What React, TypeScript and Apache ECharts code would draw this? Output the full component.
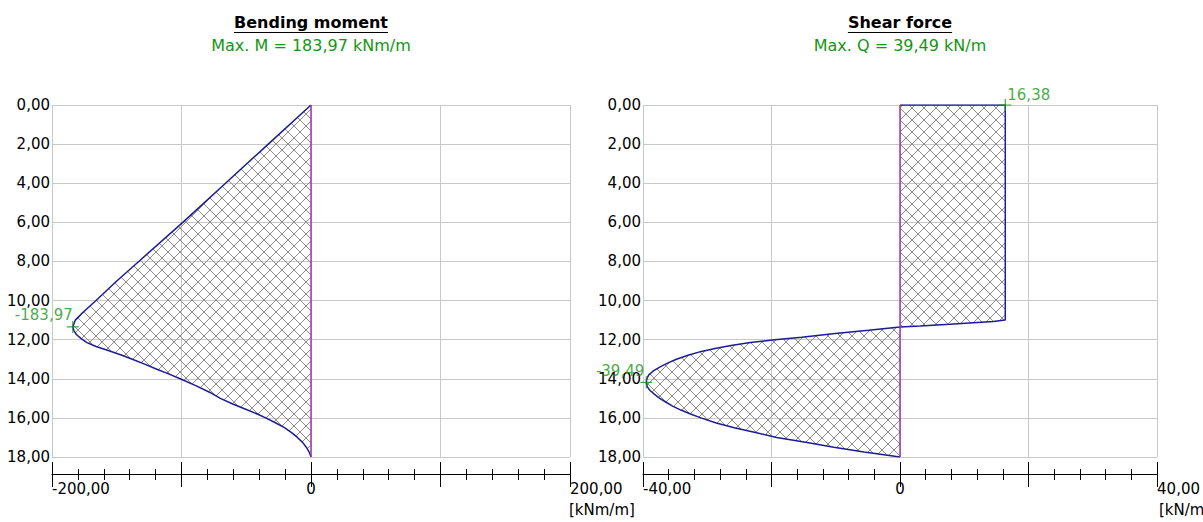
import React, { useEffect, useRef } from "react";
import * as echarts from "echarts";

// ---- data ----
const yTicks = [0, 2, 4, 6, 8, 10, 12, 14, 16, 18];

const momentDepth = [0, 2, 4, 6, 8, 9, 10, 10.6, 11.0, 11.35, 11.55, 11.75, 11.95, 12.15, 12.35, 12.57, 12.8, 13.0, 13.25, 13.5, 13.75, 14.0, 14.35, 14.7, 15.0, 15.3, 15.6, 15.8, 16.0, 16.25, 16.5, 16.75, 17.0, 17.25, 17.5, 17.75, 18];
const momentValue = [0, -33, -66, -99, -133, -150, -166, -176, -182, -183.97, -183, -181, -177.5, -173, -166, -156, -146, -138, -128.5, -119.5, -110, -101, -89, -78, -70, -60, -49, -41.5, -35, -27.5, -20.5, -15, -10.5, -6.5, -3.6, -1.4, 0];
const momentMax = { value: -183.97, depth: 11.35 };

const shearDepth = [0, 0, 11.0, 11.07, 11.21, 11.3, 11.35, 11.45, 11.52, 11.69, 11.88, 12.0, 12.15, 12.3, 12.45, 12.6, 12.8, 13.0, 13.2, 13.4, 13.6, 13.8, 14.0, 14.2, 14.4, 14.6, 14.8, 15.0, 15.2, 15.4, 15.6, 15.8, 16.0, 16.26, 16.5, 16.75, 17.0, 17.25, 17.5, 17.75, 18];
const shearValue = [0, 16.38, 16.38, 14.5, 7.75, 3.1, 0, -3, -4.9, -10.1, -15.3, -19.5, -23.3, -26.3, -28.8, -30.9, -33, -34.8, -36.2, -37.4, -38.4, -39.1, -39.4, -39.49, -39.35, -38.9, -38.2, -37.4, -36.4, -35.4, -34.1, -32.6, -31.0, -28.6, -25.8, -22.5, -19.2, -14.7, -10.3, -5.6, 0];
const shearMax = { value: -39.49, depth: 14.18 };
const shearTop = { value: 16.38, depth: 0 };

const titles = ["Bending moment", "Shear force"];
const subtitles = ["Max. M = 183,97 kNm/m", "Max. Q = 39,49 kN/m"];
const units = ["[kNm/m]", "[kN/m]"];
const xRanges = [
  { min: -200, max: 200, interval: 100 },
  { min: -40, max: 40, interval: 20 },
];

const FONT = '"DejaVu Sans", sans-serif';
const GREEN = "#139613";
const NAVY = "#1c1c94";
const MAGENTA = "#a233b0";
const GRID = "#c8c8c8";

const fmt2 = (v: number) => v.toFixed(2).replace(".", ",");

function makePattern() {
  const s = 12;
  const c = document.createElement("canvas");
  c.width = s;
  c.height = s;
  const ctx = c.getContext("2d")!;
  ctx.strokeStyle = "#8c8c8c";
  ctx.lineWidth = 1;
  ctx.beginPath();
  ctx.moveTo(-1, -1);
  ctx.lineTo(s + 1, s + 1);
  ctx.moveTo(s + 1, -1);
  ctx.lineTo(-1, s + 1);
  ctx.stroke();
  return { image: c, repeat: "repeat", imageWidth: s, imageHeight: s } as any;
}

function textWidth(text: string, font: string) {
  const c = document.createElement("canvas");
  const ctx = c.getContext("2d")!;
  ctx.font = font;
  return ctx.measureText(text).width;
}

const PLUS = "path://M5.4,0H6.6V5.4H12V6.6H6.6V12H5.4V6.6H0V5.4H5.4Z";

export default function App() {
  const ref = useRef<HTMLDivElement>(null);
  useEffect(() => {
    const chart = echarts.init(ref.current!, null, { renderer: "svg" });
    const pattern = makePattern();
    const grids = [
      { left: 52, top: 105, width: 518, height: 352 },
      { left: 643, top: 105, width: 517, height: 352 },
    ];
    const xAxis: any[] = [];
    const yAxis: any[] = [];
    grids.forEach((g, i) => {
      const r = xRanges[i];
      xAxis.push({
        gridIndex: i,
        type: "value",
        min: r.min,
        max: r.max,
        interval: r.interval,
        position: "bottom",
        offset: 17,
        axisLine: { show: true, onZero: false, lineStyle: { color: "#000", width: 1 } },
        axisTick: { show: true, inside: true, length: 12, lineStyle: { color: "#000" } },
        minorTick: { show: true, splitNumber: 5, length: 5, lineStyle: { color: "#000" } },
        splitLine: { show: true, lineStyle: { color: GRID, width: 1 } },
        axisLabel: {
          show: true,
          margin: 7,
          align: "center",
          fontFamily: FONT,
          fontSize: 15,
          color: "#000",
          formatter: (v: number) => (v === 0 ? "0" : ""),
        },
      });
      xAxis.push({
        gridIndex: i,
        type: "value",
        min: r.min,
        max: r.max,
        interval: r.interval,
        position: "bottom",
        offset: 17,
        axisLine: { show: false, onZero: false },
        axisTick: { show: true, inside: false, length: 13, lineStyle: { color: "#000" } },
        minorTick: { show: true, splitNumber: 5, length: 6, lineStyle: { color: "#000" } },
        splitLine: { show: false },
        axisLabel: {
          show: true,
          margin: 7,
          align: "left",
          fontFamily: FONT,
          fontSize: 15,
          color: "#000",
          formatter: (v: number) => (v === r.min || v === r.max ? fmt2(v) : ""),
        },
      });
      yAxis.push({
        gridIndex: i,
        type: "value",
        inverse: true,
        min: yTicks[0],
        max: yTicks[yTicks.length - 1],
        interval: 2,
        axisLine: { show: false },
        axisTick: { show: false },
        splitLine: { show: true, lineStyle: { color: GRID, width: 1 } },
        axisLabel: { margin: 2, fontFamily: FONT, fontSize: 15, color: "#000", formatter: (v: number) => fmt2(v) },
      });
    });

    const datasets = [
      { depth: momentDepth, value: momentValue },
      { depth: shearDepth, value: shearValue },
    ];
    const series: any[] = [];
    datasets.forEach((d, i) => {
      const xIdx = i * 2;
      series.push({
        type: "custom",
        xAxisIndex: xIdx,
        yAxisIndex: i,
        data: [[0, 0]],
        z: 1,
        silent: true,
        renderItem: (_p: any, api: any) => {
          const pts = d.value.map((v, k) => api.coord([v, d.depth[k]]));
          return {
            type: "polygon",
            shape: { points: pts },
            style: { fill: pattern, stroke: "none" },
          };
        },
      });
      series.push({
        type: "line",
        xAxisIndex: xIdx,
        yAxisIndex: i,
        data: d.value.map((v, k) => [v, d.depth[k]]),
        showSymbol: false,
        symbol: "none",
        lineStyle: { color: NAVY, width: 1.5 },
        z: 3,
      });
      series.push({
        type: "line",
        xAxisIndex: xIdx,
        yAxisIndex: i,
        data: [
          [0, yTicks[0]],
          [0, yTicks[yTicks.length - 1]],
        ],
        showSymbol: false,
        symbol: "none",
        lineStyle: { color: MAGENTA, width: 1.5 },
        z: 4,
      });
    });

    const markers = [
      { xIdx: 0, yIdx: 0, pt: momentMax, pos: [6, 2], align: "right" },
      { xIdx: 2, yIdx: 1, pt: shearMax, pos: [4, 2], align: "right" },
      { xIdx: 2, yIdx: 1, pt: shearTop, pos: [8, 3], align: "left" },
    ];
    markers.forEach((m) => {
      series.push({
        type: "scatter",
        xAxisIndex: m.xIdx,
        yAxisIndex: m.yIdx,
        data: [[m.pt.value, m.pt.depth]],
        symbol: PLUS,
        symbolSize: 12,
        itemStyle: { color: GREEN },
        z: 6,
        label: {
          show: true,
          position: m.pos,
          align: m.align,
          verticalAlign: "bottom",
          color: GREEN,
          fontFamily: FONT,
          fontSize: 15,
          formatter: () => fmt2(m.pt.value),
        },
      });
    });

    const graphic: any[] = [];
    const centers = [311, 900];
    const titleFont = `bold 16px ${FONT}`;
    centers.forEach((cx, i) => {
      graphic.push({
        type: "text",
        x: cx,
        y: 14,
        style: { text: titles[i], font: titleFont, fill: "#000", align: "center", verticalAlign: "top", textAlign: "center", textVerticalAlign: "top" },
      });
      const w = textWidth(titles[i], `bold 16px "DejaVu Sans"`);
      graphic.push({
        type: "line",
        shape: { x1: cx - w / 2, y1: 32.5, x2: cx + w / 2, y2: 32.5 },
        style: { stroke: "#000", lineWidth: 1 },
      });
      graphic.push({
        type: "text",
        x: cx,
        y: 37,
        style: { text: subtitles[i], font: `16px ${FONT}`, fill: GREEN, align: "center", verticalAlign: "top", textAlign: "center", textVerticalAlign: "top" },
      });
      graphic.push({
        type: "text",
        x: grids[i].left + grids[i].width - 1,
        y: 502,
        style: { text: units[i], font: `15px ${FONT}`, fill: "#000", align: "left", verticalAlign: "top", textAlign: "left", textVerticalAlign: "top" },
      });
    });

    chart.setOption({
      animation: false,
      backgroundColor: "#fff",
      grid: grids,
      xAxis,
      yAxis,
      series,
      graphic,
    });
    return () => chart.dispose();
  }, []);
  return <div ref={ref} style={{ position: "fixed", left: 0, top: 0, width: 1203, height: 522 }} />;
}
